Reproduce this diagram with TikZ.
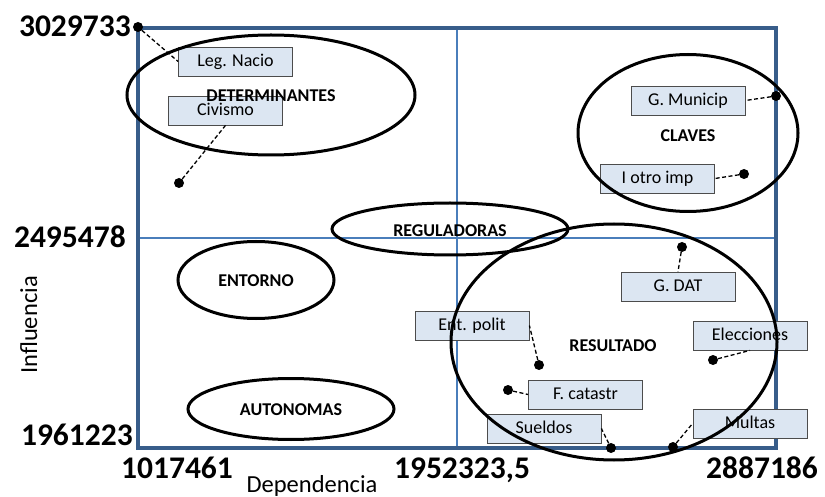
\documentclass[tikz,border=0pt]{standalone}
\usepackage{fontspec}
\setmainfont{Carlito}
\usetikzlibrary{shapes.geometric}
\definecolor{frameblue}{HTML}{385D8A}
\definecolor{gridblue}{HTML}{4A7EBB}
\definecolor{lblfill}{HTML}{DCE6F2}
\begin{document}
\begin{tikzpicture}[x=1pt,y=-1pt,
  frameline/.style={draw=frameblue,line width=4pt},
  gridline/.style={draw=gridblue,line width=1.6pt},
  zone/.style={ellipse,draw=black,line width=3pt,inner sep=0pt},
  zonetext/.style={inner sep=0pt,text height=11.6pt,text depth=0pt,
    font=\fontsize{18}{18}\selectfont\bfseries},
  lbl/.style={draw=gray!60!black,fill=lblfill,line width=0.8pt,
    minimum width=114pt,minimum height=29pt,inner sep=0pt,
    text height=11.6pt,text depth=2.2pt,
    font=\fontsize{18}{18}\selectfont},
  dot/.style={circle,fill=black,inner sep=0pt,minimum size=10pt},
  leader/.style={draw=black,line width=1.3pt,dash pattern=on 4pt off 2.5pt},
  axnum/.style={font=\fontsize{31.5}{31.5}\selectfont\bfseries,inner sep=0pt},
  axtitle/.style={font=\fontsize{24.5}{24.5}\selectfont,inner sep=0pt}]
\useasboundingbox[fill=white] (0,0) rectangle (825,497);

% quadrant grid and plot frame
\coordinate (fTL) at (138,28);
\coordinate (fBR) at (776,448);
\draw[gridline] (457,28) -- (457,448);
\draw[gridline] (138,238) -- (776,238);
\draw[frameline] (fTL) rectangle (fBR);

% axis values
\node[axnum,anchor=base east] (yTop) at (131,37) {3029733};
\node[axnum,anchor=base east] (yMid) at (126,248) {2495478};
\node[axnum,anchor=base east] (yBot) at (133,445) {1961223};
\node[axnum,anchor=base] (xLeft) at (177,478) {1017461};
\node[axnum,anchor=base] (xMid) at (462,478) {1952323,5};
\node[axnum,anchor=base] (xRight) at (762,478) {2887186};
\node[axtitle,anchor=base] (xTitle) at (312,492) {Dependencia};
\node[axtitle,anchor=base,rotate=90] (yTitle) at (37,325) {Influencia};

% variable labels
\node[lbl] (leg) at (235.5,61.5) {Leg. Nacio};
\node[lbl] (civ) at (225.5,110.5) {Civismo};
\node[lbl] (gmun) at (688,100.5) {G. Municip};
\node[lbl] (iotro) at (657.5,178.5) {I otro imp};
\node[lbl] (gdat) at (678,286.5) {G. DAT};
\node[lbl] (ent) at (472,325.5) {Ent. polit};
\node[lbl] (elec) at (750,335.5) {Elecciones};
\node[lbl] (fcat) at (585.5,394.5) {F. catastr};
\node[lbl] (sue) at (544,428.5) {Sueldos};
\node[lbl] (mul) at (750,423.5) {Multas};

% zones
\node[zone,minimum width=288pt,minimum height=120pt] (zDet) at (271,95) {};
\node[zone,minimum width=220pt,minimum height=157pt] (zCla) at (688,133) {};
\node[zone,minimum width=236pt,minimum height=52pt] (zReg) at (450,229) {};
\node[zone,minimum width=156pt,minimum height=77pt] (zEnt) at (256,280) {};
\node[zone,minimum width=206pt,minimum height=61pt] (zAut) at (291,409) {};
\node[zone,minimum width=326pt,minimum height=236pt] (zRes) at (614,342) {};
\node[zonetext] (tDet) at (271,96) {DETERMINANTES};
\node[zonetext] (tCla) at (688,135.5) {CLAVES};
\node[zonetext] (tReg) at (450,230.5) {REGULADORAS};
\node[zonetext] (tEnt) at (256,281) {ENTORNO};
\node[zonetext] (tAut) at (291,410) {AUTONOMAS};
\node[zonetext] (tRes) at (613,345.5) {RESULTADO};

% data points
\node[dot] (pLeg) at (138,27) {};
\node[dot] (pCiv) at (179,183) {};
\node[dot] (pGmun) at (776,96) {};
\node[dot] (pIotro) at (744,174) {};
\node[dot] (pGdat) at (682,247) {};
\node[dot] (pEnt) at (539,365) {};
\node[dot] (pElec) at (713,360) {};
\node[dot] (pFcat) at (508,390) {};
\node[dot] (pSue) at (611,448) {};
\node[dot] (pMul) at (673,447) {};

% leader lines
\draw[leader] (pLeg) -- (leg.west);
\draw[leader] (pCiv) -- (civ.south);
\draw[leader] (pGmun) -- (gmun.east);
\draw[leader] (pIotro) -- (iotro.east);
\draw[leader] (pGdat) -- (gdat.north);
\draw[leader] (pEnt) -- (ent.east);
\draw[leader] (pElec) -- (elec.south);
\draw[leader] (pFcat) -- (fcat.west);
\draw[leader] (pSue) -- (sue.east);
\draw[leader] (pMul) -- (mul.west);
\end{tikzpicture}
\end{document}
